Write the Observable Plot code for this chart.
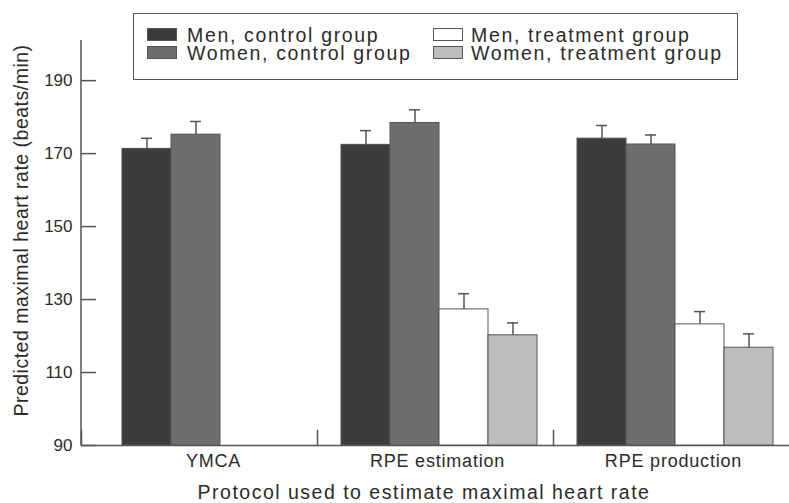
<!DOCTYPE html>
<html>
<head>
<meta charset="utf-8">
<script src="https://cdn.jsdelivr.net/npm/d3@7"></script>
<script src="https://cdn.jsdelivr.net/npm/@observablehq/plot@0.6"></script>
<style>
  body { margin: 0; background: #fff; }
  #fig { position: relative; width: 789px; height: 503px; font-family: "Liberation Sans", Arial, sans-serif; color: #2b2b2b; }
  #fig svg { position: absolute; left: 0; top: 0; }
  .lgbox { position: absolute; left: 133px; top: 13px; width: 605px; height: 67px; box-sizing: border-box; border: 1.3px solid #555; background: #fff; }
  .sw { position: absolute; width: 30px; height: 13px; box-sizing: border-box; border: 1px solid #555; }
  .lt { position: absolute; font-size: 19.5px; line-height: 17px; height: 17px; letter-spacing: 1.65px; white-space: nowrap; color: #2b2b2b; }
</style>
</head>
<body>
<div id="fig"></div>
<script>
// ---- data ----
const groups = ["YMCA", "RPE estimation", "RPE production"];
const series = ["Men, control group", "Women, control group", "Men, treatment group", "Women, treatment group"];
const colors = ["#3c3c3c", "#6e6e6e", "#ffffff", "#bdbdbd"];
const meanMenControl     = [171.3, 172.4, 174.1];
const meanWomenControl   = [175.2, 178.4, 172.5];
const meanMenTreatment   = [null, 127.3, 123.2];
const meanWomenTreatment = [null, 120.2, 116.8];
const seMenControl       = [2.9, 3.9, 3.6];
const seWomenControl     = [3.6, 3.6, 2.6];
const seMenTreatment     = [null, 4.3, 3.5];
const seWomenTreatment   = [null, 3.4, 3.8];
const yTicks = [90, 110, 130, 150, 170, 190];
const yDomain = [90, 201];
const yTitle = "Predicted maximal heart rate (beats/min)";
const xTitle = "Protocol used to estimate maximal heart rate";

const means = [meanMenControl, meanWomenControl, meanMenTreatment, meanWomenTreatment];
const ses = [seMenControl, seWomenControl, seMenTreatment, seWomenTreatment];

const table = [];
groups.forEach((g, gi) => series.forEach((s, si) => {
  const m = means[si][gi];
  if (m == null) return;
  table.push({group: g, series: s, mean: m, upper: m + ses[si][gi]});
}));

// ---- layout ----
const W = 789, H = 503, ML = 81, MR = 0, MT = 40, MB = 58;
const facetW = (W - ML - MR) / groups.length;
const innerH = H - MT - MB;
const axisStroke = "#555";
const tickLen = 15;
const lineW = 1.5;

function barMarks(data, dx) {
  return [
    Plot.barY(data, {fx: "group", x: "series", y1: () => yDomain[0], y2: "mean", fill: "series", stroke: axisStroke, strokeWidth: 1, dx}),
    Plot.ruleX(data, {fx: "group", x: "series", y1: "mean", y2: "upper", stroke: axisStroke, strokeWidth: 1.5, dx}),
    Plot.tickY(data, {fx: "group", x: "series", y: "upper", stroke: axisStroke, strokeWidth: 1.5, insetLeft: 19, insetRight: 19, dx})
  ];
}

const firstData = table.filter(d => d.group === groups[0]);
const restData = table.filter(d => d.group !== groups[0]);

const svg = Plot.plot({
  width: W, height: H,
  marginLeft: ML, marginRight: MR, marginTop: MT, marginBottom: MB,
  style: {fontFamily: "'Liberation Sans', Arial, sans-serif", fontSize: "17px", color: "#2b2b2b", background: "transparent", overflow: "visible"},
  fx: {domain: groups, padding: 0, label: null},
  x: {domain: series, paddingInner: 0, paddingOuter: 0.37, align: 0.6, axis: null},
  y: {domain: yDomain},
  color: {domain: series, range: colors},
  marks: [
    // short separator ticks between protocol groups
    Plot.frame({anchor: "left", insetTop: innerH - tickLen, stroke: axisStroke, strokeWidth: lineW}),
    // y axis line, drawn only in the first group's panel
    Plot.rect([yTitle], {fx: () => groups[0], fill: axisStroke, insetRight: facetW - lineW, dx: -lineW / 2}),
    Plot.ruleY([yDomain[0]], {stroke: axisStroke, strokeWidth: lineW}),
    ...barMarks(firstData, 17),
    ...barMarks(restData, 0),
    // inward y ticks
    Plot.tickY(yTicks, {fx: () => groups[0], y: d => d, insetRight: facetW - tickLen, stroke: axisStroke, strokeWidth: lineW}),
    Plot.axisY({ticks: yTicks, tickSize: 0, tickPadding: 9, fontSize: 17, label: null}),
    Plot.axisFx({anchor: "bottom", ticks: [groups[0]], tickSize: 0, tickPadding: 9, dx: 14, fontSize: 18, label: null}),
    Plot.axisFx({anchor: "bottom", ticks: groups.slice(1), tickSize: 0, tickPadding: 9, dx: 2, fontSize: 18, label: null}),
    Plot.text([yTitle], {fx: () => groups[0], text: d => d, frameAnchor: "left", textAnchor: "middle", lineAnchor: "middle", rotate: -90, dx: -60, dy: -12.5, fontSize: 19.5}),
    Plot.text([xTitle], {fx: () => groups[1], text: d => d, frameAnchor: "bottom", textAnchor: "middle", lineAnchor: "middle", dx: -11.5, dy: 47.5, fontSize: 19.5})
  ]
});

// letter spacing to match the printed typeface
d3.select(svg).selectAll('[aria-label="fx-axis tick label"] text').style("letter-spacing", "0.8px");
d3.select(svg).selectAll('[aria-label="text"] text').each(function() {
  const t = this.textContent;
  this.style.letterSpacing = t === xTitle ? "1.5px" : "0.5px";
});

const fig = document.getElementById("fig");
fig.appendChild(svg);

// ---- legend (HTML overlay inside the plot area, as in the reference) ----
const box = document.createElement("div");
box.className = "lgbox";
fig.appendChild(box);
const swLeft = [147, 433], txtLeft = [187, 471], swTop = [28, 46], txtTop = [26.7, 44.7];
series.forEach((s, i) => {
  const col = Math.floor(i / 2), row = i % 2;
  const sw = document.createElement("div");
  sw.className = "sw";
  sw.style.left = swLeft[col] + "px";
  sw.style.top = swTop[row] + "px";
  sw.style.background = colors[i];
  fig.appendChild(sw);
  const t = document.createElement("div");
  t.className = "lt";
  t.style.left = txtLeft[col] + "px";
  t.style.top = txtTop[row] + "px";
  t.textContent = s;
  fig.appendChild(t);
});
</script>
</body>
</html>
